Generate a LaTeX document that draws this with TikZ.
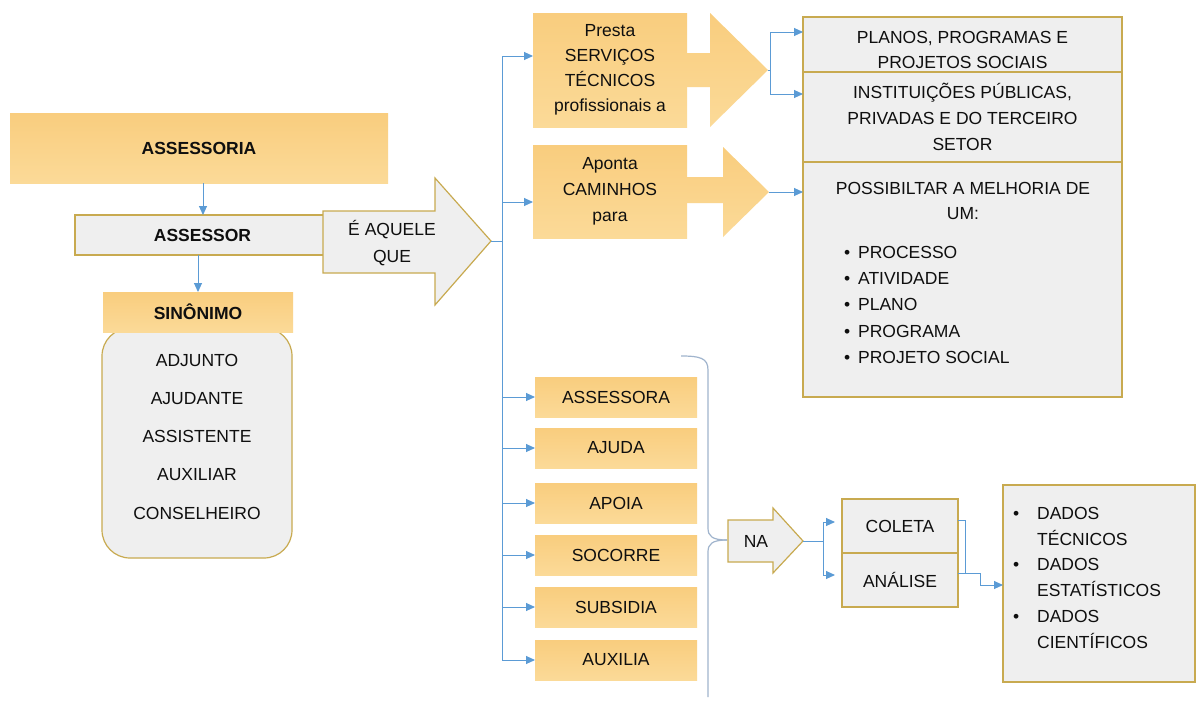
\documentclass[tikz,border=0pt]{standalone}
\usepackage{fontspec}
\setmainfont{Liberation Sans}
\usetikzlibrary{arrows.meta,calc}
\definecolor{orng}{RGB}{250,210,135}
\definecolor{orngT}{RGB}{249,205,126}
\definecolor{orngB}{RGB}{251,218,152}
\definecolor{gry}{RGB}{239,239,239}
\definecolor{gold}{RGB}{200,170,80}
\definecolor{cblue}{RGB}{91,155,213}
\definecolor{brc}{RGB}{160,180,205}
\definecolor{txt}{RGB}{15,15,15}
\begin{document}
\begin{tikzpicture}[x=1pt,y=-1pt,
  every node/.style={text=txt, font=\fontsize{17.5}{26}\selectfont, inner sep=0pt, outer sep=0pt},
  boldtxt/.style={font=\fontsize{17.5}{26}\selectfont\bfseries},
  obox/.style={rectangle, top color=orngT, bottom color=orngB, draw=none},
  gbox/.style={rectangle, fill=gry, draw=gold, line width=1.2pt},
  garrow/.style={fill=gry, draw=gold, line width=1.2pt, line join=miter},
  oarrow/.style={top color=orngT, bottom color=orngB, draw=none},
  conn/.style={draw=cblue, line width=1pt, -{Triangle[length=9pt,width=8pt]}},
  cline/.style={draw=cblue, line width=1pt},
  brline/.style={draw=brc, line width=1.2pt},
  ]
\fill[white] (0,0) rectangle (1197,702);
\useasboundingbox (0,0) rectangle (1197,702);

% left column
\node[obox, minimum width=378pt, minimum height=70pt, boldtxt] (assessoria) at (199,148) {ASSESSORIA};
\node[gbox, minimum width=255pt, minimum height=40pt, boldtxt] (assessor) at (202.5,235) {ASSESSOR};
\node[gbox, rounded corners=28pt, minimum width=190pt, minimum height=230pt] (sinbox) at (197,443) {};
\node[obox, minimum width=190pt, minimum height=40pt, boldtxt] (sinonimo) at (198,312) {SINÔNIMO};
\node[align=center, font=\fontsize{17.5}{38.25}\selectfont] (sinlist) at (197,436.5) {ADJUNTO\\AJUDANTE\\ASSISTENTE\\AUXILIAR\\CONSELHEIRO};
\draw[conn] ([xshift=4pt]assessoria.south) -- ([xshift=4pt]assessoria.south |- assessor.north);
\draw[conn] (assessor.south -| sinonimo.north) -- (sinonimo.north);

% big arrow
\draw[garrow] (323,211) -- (435,211) -- (435,178) -- (491,241) -- (435,305) -- (435,273) -- (323,273) -- cycle;
\node[align=center, font=\fontsize{17.5}{27}\selectfont] (aquele) at (392,243) {É AQUELE\\QUE};
\coordinate (t0) at (491,241);
\coordinate (trunk) at (502,241);

% upper middle
\node[obox, minimum width=154pt, minimum height=114pt, align=center, font=\fontsize{17.5}{25}\selectfont] (presta) at (610,70) {Presta\\SERVIÇOS\\TÉCNICOS\\profissionais a};
\path[oarrow] (687,53) -- (710,53) -- (710,13) -- (768,70) -- (710,127) -- (710,87) -- (687,87) -- cycle;
\coordinate (t1) at (768,70);
\node[obox, minimum width=154pt, minimum height=93pt, align=center] (aponta) at (610,191.5) {Aponta\\CAMINHOS\\para};
\path[oarrow] (687,177) -- (723,177) -- (723,147) -- (769,192) -- (723,237) -- (723,203) -- (687,203) -- cycle;
\coordinate (t2) at (769,192);

% right boxes
\node[gbox, minimum width=319pt, minimum height=55pt] (planos) at (962.5,44.5) {};
\node[align=center, font=\fontsize{17.5}{25}\selectfont] (planosT) at (962.5,49.5) {PLANOS, PROGRAMAS E\\PROJETOS SOCIAIS};
\node[gbox, minimum width=319pt, minimum height=90pt, align=center] (inst) at (962.5,117) {INSTITUIÇÕES PÚBLICAS,\\PRIVADAS E DO TERCEIRO\\SETOR};
\node[gbox, minimum width=319pt, minimum height=235pt] (poss) at (962.5,279.5) {};
\node[align=center, font=\fontsize{17.5}{25}\selectfont] (possT) at (963,200.5) {POSSIBILTAR A MELHORIA DE\\UM:};
\node[anchor=base west, font=\fontsize{17.5}{26.25}\selectfont] (possL) at (844,258.25) {\begin{tabular}[t]{@{}l@{\hspace{8pt}}l@{}}\textbullet&PROCESSO\\ \textbullet&ATIVIDADE\\ \textbullet&PLANO\\ \textbullet&PROGRAMA\\ \textbullet&PROJETO SOCIAL\end{tabular}};

\coordinate (f1) at (770,70);
\draw[cline] (t1) -- (f1);
\draw[conn] (f1) |- (planos.west |- 0,32);
\draw[conn] (f1) |- (inst.west |- 0,94);
\draw[conn] (t2) -- (poss.west |- t2);

% lower middle boxes
\foreach \n/\t/\y in {b1/ASSESSORA/397, b2/AJUDA/448, b3/APOIA/503, b4/SOCORRE/555, b5/SUBSIDIA/607, b6/AUXILIA/660}{
  \node[obox, minimum width=162pt, minimum height=40pt] (\n) at (616,\y) {\t};
  \draw[conn] (trunk |- \n.west) -- (\n.west);
}
\draw[cline] (t0) -- (trunk);
\draw[cline] (trunk |- 0,56) -- (trunk |- b6.west);
\draw[conn] (trunk |- 0,56) -- (presta.west |- 0,56);
\draw[conn] (trunk |- 0,202) -- (aponta.west |- 0,202);

% brace
\coordinate (btip) at (727,540);
\draw[brline] (681,356) .. controls (700,356) and (708,358) .. (708,370) -- (708,528) .. controls (708,536) and (712,540) .. (btip);
\draw[brline] (btip) .. controls (712,540) and (708,544) .. (708,552) -- (708,697);

% NA arrow
\draw[garrow] (728,520) -- (773,520) -- (773,508) -- (803,541) -- (773,573) -- (773,562) -- (728,562) -- cycle;
\node (na) at (756,541) {NA};
\coordinate (t3) at (803,541);
\coordinate (f3) at (823,541);

\node[gbox, minimum width=116pt, minimum height=54pt] (coleta) at (900,526) {COLETA};
\node[gbox, minimum width=116pt, minimum height=54pt] (analise) at (900,580) {ANÁLISE};
\draw[cline] (t3) -- (f3);
\draw[conn, shorten >=7pt] (f3) |- (coleta.west |- 0,522);
\draw[conn, shorten >=7pt] (f3) |- (analise.west |- 0,575);

\node[gbox, minimum width=192pt, minimum height=197pt] (dados) at (1099,583.5) {};
\node[anchor=base west, font=\fontsize{17.5}{25.8}\selectfont] (dadosL) at (1013,519.25) {\begin{tabular}[t]{@{}l@{\hspace{18pt}}l@{}}\textbullet&DADOS\\ &TÉCNICOS\\ \textbullet&DADOS\\ &ESTATÍSTICOS\\ \textbullet&DADOS\\ &CIENTÍFICOS\end{tabular}};
\draw[cline] (coleta.east |- 0,520) -- (965,520) -- (965,573);
\draw[conn] (analise.east |- 0,573) -- (980,573) -- (980,585) -- (dados.west |- 0,585);
\end{tikzpicture}
\end{document}
